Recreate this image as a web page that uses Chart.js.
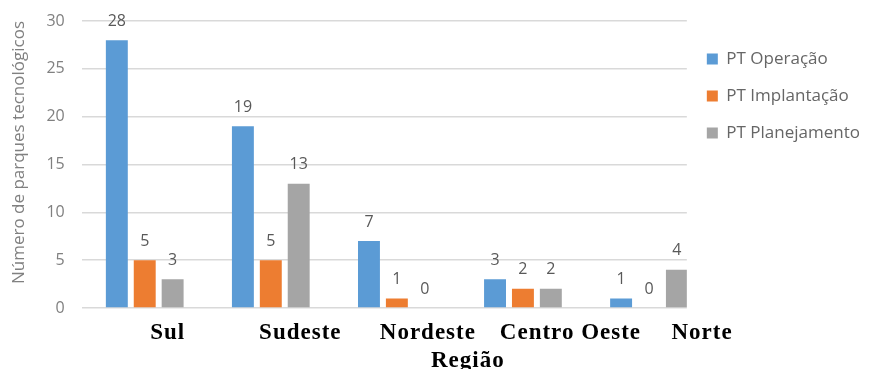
<!DOCTYPE html>
<html>
<head>
<meta charset="utf-8">
<script src="https://cdn.jsdelivr.net/npm/chart.js@4/dist/chart.umd.min.js"></script>
<style>
html,body{margin:0;padding:0;background:#ffffff;}
#wrap{width:873px;height:369px;position:relative;}
</style>
</head>
<body>
<div id="wrap"><canvas id="c" width="873" height="369"></canvas></div>
<script>
// ---- data ----
const categories = ['Sul', 'Sudeste', 'Nordeste', 'Centro Oeste', 'Norte'];
const seriesNames = ['PT Operação', 'PT Implantação', 'PT Planejamento'];
const ptOperacao = [28, 19, 7, 3, 1];
const ptImplantacao = [5, 5, 1, 2, 0];
const ptPlanejamento = [3, 13, 0, 2, 4];
const yTickValues = [0, 5, 10, 15, 20, 25, 30];
const xAxisTitle = 'Região';
const yAxisTitle = 'Número de parques tecnológicos';

// ---- style ----
const colors = ['#5B9BD5', '#ED7D31', '#A5A5A5'];
const categoryLabelShift = [23, 29.5, 31, 47.5, 53]; // px shift of category labels (as in the source image)
const xTitleShift = 71;
const labelFont = 'bold 23px "Liberation Serif", "DejaVu Serif", serif';

const seriesValues = [ptOperacao, ptImplantacao, ptPlanejamento];

const valueLabels = {
  id: 'valueLabels',
  afterDatasetsDraw(chart) {
    const ctx = chart.ctx;
    ctx.save();
    ctx.font = '16px "Open Sans", sans-serif';
    ctx.fillStyle = '#595959';
    ctx.textAlign = 'center';
    ctx.textBaseline = 'middle';
    chart.data.datasets.forEach((ds, di) => {
      const meta = chart.getDatasetMeta(di);
      meta.data.forEach((el, i) => {
        ctx.fillText(String(seriesValues[di][i]), el.x, el.y - 19);
      });
    });
    ctx.restore();
  }
};

const categoryLabels = {
  id: 'categoryLabels',
  afterDraw(chart) {
    const ctx = chart.ctx;
    const xs = chart.scales.x;
    const area = chart.chartArea;
    ctx.save();
    ctx.font = labelFont;
    if ('letterSpacing' in ctx) ctx.letterSpacing = '1px';
    ctx.fillStyle = '#000000';
    ctx.textAlign = 'center';
    ctx.textBaseline = 'middle';
    categories.forEach((c, i) => {
      ctx.fillText(c, xs.getPixelForValue(i) + categoryLabelShift[i], area.bottom + 25);
    });
    ctx.fillText(xAxisTitle, xs.getPixelForValue(2) + xTitleShift, area.bottom + 53);
    ctx.restore();
  }
};

const datasets = seriesNames.map((name, di) => ({
  label: name,
  data: seriesValues[di].map((v, i) => ({ x: i, y: v })),
  backgroundColor: colors[di],
  borderWidth: 0,
  categoryPercentage: 0.664,
  barPercentage: 0.786
}));

new Chart(document.getElementById('c'), {
  type: 'bar',
  data: { datasets },
  plugins: [valueLabels, categoryLabels],
  options: {
    responsive: false,
    animation: false,
    devicePixelRatio: 1,
    layout: { padding: { top: 21, bottom: 61, left: 4, right: 3 } },
    plugins: {
      tooltip: { enabled: false },
      legend: {
        position: 'right',
        align: 'start',
        title: { display: true, text: ' ', padding: 0, font: { size: 8, lineHeight: 1.1875 } },
        labels: {
          boxWidth: 11,
          boxHeight: 11,
          padding: 20,
          color: '#666666',
          font: { family: '"Open Sans", sans-serif', size: 17 }
        }
      }
    },
    scales: {
      x: {
        type: 'linear',
        offset: false,
        min: -0.5,
        max: categories.length - 0.7,
        afterBuildTicks: s => { s.ticks = categories.map((_, i) => ({ value: i })); },
        grid: { display: false, drawTicks: false },
        border: { display: false },
        ticks: { display: false }
      },
      y: {
        min: yTickValues[0],
        max: yTickValues[yTickValues.length - 1],
        afterBuildTicks: s => { s.ticks = yTickValues.map(v => ({ value: v })); },
        afterFit: s => { s.paddingTop = 0; },
        grid: { color: '#d9d9d9', lineWidth: 1.5, drawTicks: false },
        border: { display: false },
        ticks: {
          padding: 17,
          color: '#808080',
          font: { family: '"Open Sans", sans-serif', size: 16 }
        },
        title: {
          display: true,
          text: yAxisTitle,
          align: 'end',
          color: '#808080',
          font: { family: '"Open Sans", sans-serif', size: 17 },
          padding: { top: 5, bottom: 0 }
        }
      }
    }
  }
});
</script>
</body>
</html>
